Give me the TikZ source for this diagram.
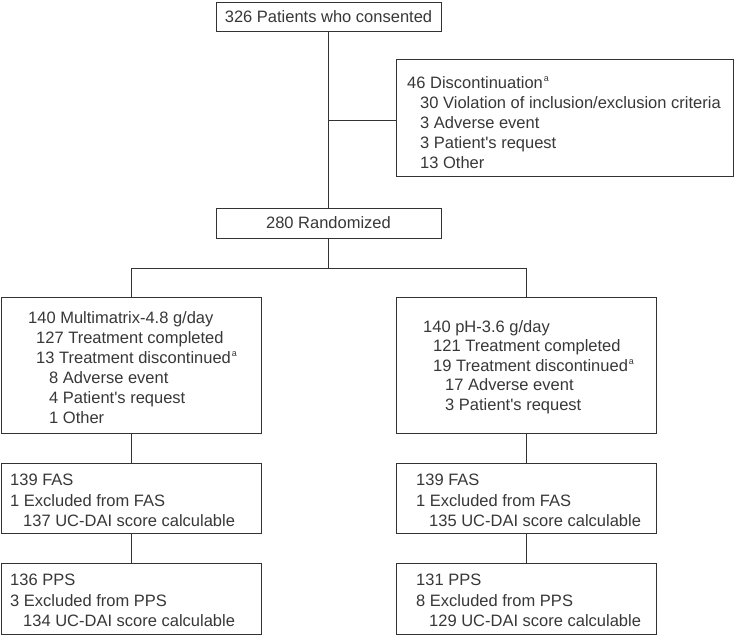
\documentclass[tikz,border=0pt]{standalone}
\usepackage{fontspec}
\setmainfont{Liberation Sans}[Ligatures=TeXOff]
\newcommand\supa{\hspace{1pt}\raisebox{7pt}{\fontsize{9}{9}\selectfont a}}
\begin{document}
\begin{tikzpicture}[x=1pt,y=-1pt,
  box/.style={draw=black!80, line width=0.85pt, rectangle, inner sep=0pt},
  ctxt/.style={text=black!78, font=\fontsize{16.5}{20}\selectfont},
  txt/.style={anchor=north west, inner sep=0pt, align=left, text=black!78, font=\fontsize{16.5}{20}\selectfont},
  link/.style={draw=black!80, line width=0.85pt}]
\useasboundingbox[fill=white] (0,0) rectangle (735,636);

% boxes
\node[box, ctxt, minimum width=225pt, minimum height=29pt] (top) at (328.5,16.5) {326 Patients who consented};
\node[box, minimum width=337pt, minimum height=117pt] (disc) at (564.5,117.5) {};
\node[box, ctxt, minimum width=225pt, minimum height=30pt] (rand) at (328.5,223) {280 Randomized};
\node[box, minimum width=259.5pt, minimum height=136pt] (left) at (131.25,365) {};
\node[box, minimum width=260pt, minimum height=136pt] (right) at (526,365) {};
\node[box, minimum width=259.5pt, minimum height=70pt] (lfas) at (131.25,498) {};
\node[box, minimum width=260pt, minimum height=70pt] (rfas) at (526,498) {};
\node[box, minimum width=259.5pt, minimum height=71pt] (lpps) at (131.25,598.5) {};
\node[box, minimum width=260pt, minimum height=71pt] (rpps) at (526,598.5) {};

% texts
\node[txt] (disct) at (407,76) {46 Discontinuation\supa\\
\hspace*{13pt}30 Violation of inclusion/exclusion criteria\\
\hspace*{13pt}3 Adverse event\\
\hspace*{13pt}3 Patient's request\\
\hspace*{13pt}13 Other};

\node[txt] (leftt) at (28,311) {140 Multimatrix-4.8 g/day\\
\hspace*{8pt}127 Treatment completed\\
\hspace*{8pt}13 Treatment discontinued\supa\\
\hspace*{21pt}8 Adverse event\\
\hspace*{21pt}4 Patient's request\\
\hspace*{21pt}1 Other};

\node[txt, font=\fontsize{16.5}{19.6}\selectfont] (rightt) at (423,320) {140 pH-3.6 g/day\\
\hspace*{10pt}121 Treatment completed\\
\hspace*{10pt}19 Treatment discontinued\supa\\
\hspace*{22pt}17 Adverse event\\
\hspace*{22pt}3 Patient's request};

\node[txt, font=\fontsize{16.5}{20.5}\selectfont] (lfast) at (10,474) {139 FAS\\
1 Excluded from FAS\\
\hspace*{13pt}137 UC-DAI score calculable};
\node[txt, font=\fontsize{16.5}{20.5}\selectfont] (rfast) at (416,474) {139 FAS\\
1 Excluded from FAS\\
\hspace*{13pt}135 UC-DAI score calculable};
\node[txt, font=\fontsize{16.5}{20.5}\selectfont] (lppst) at (10,574) {136 PPS\\
3 Excluded from PPS\\
\hspace*{13pt}134 UC-DAI score calculable};
\node[txt, font=\fontsize{16.5}{20.5}\selectfont] (rppst) at (416,574) {131 PPS\\
8 Excluded from PPS\\
\hspace*{13pt}129 UC-DAI score calculable};

% connectors
\coordinate (j1) at (328.5,120);
\coordinate (j2) at (328.5,268);
\draw[link] (top.south) -- (rand.north);
\draw[link] (j1) -- (j1 -| disc.west);
\draw[link] (rand.south) -- (j2);
\draw[link] (j2) -| (left.north);
\draw[link] (j2) -| (right.north);
\draw[link] (left.south) -- (lfas.north);
\draw[link] (right.south) -- (rfas.north);
\draw[link] (lfas.south) -- (lpps.north);
\draw[link] (rfas.south) -- (rpps.north);
\end{tikzpicture}
\end{document}
